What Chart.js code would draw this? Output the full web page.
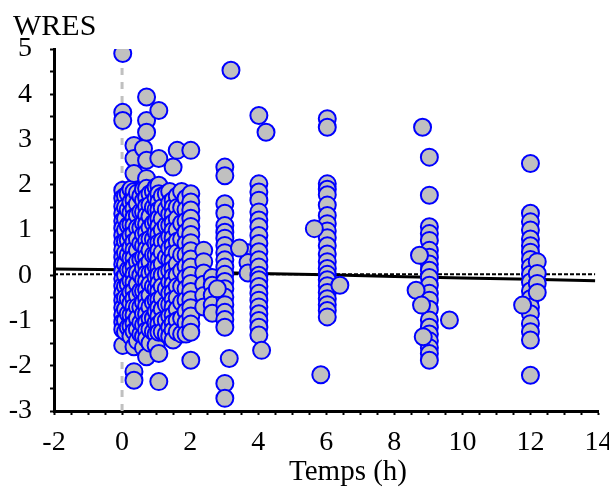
<!DOCTYPE html>
<html><head><meta charset="utf-8">
<script src="https://cdn.jsdelivr.net/npm/chart.js@4.4.1/dist/chart.umd.min.js"></script>
<style>html,body{margin:0;padding:0;background:#fff}</style>
</head><body>
<canvas id="c" width="609" height="492" style="display:block;width:609px;height:492px"></canvas>
<script>
// ---- data (hours, WRES) ----
const xTickLabels = ['-2','0','2','4','6','8','10','12','14'];
const yTickLabels = ['-3','-2','-1','0','1','2','3','4','5'];

const groupTimes = [0.02, 0.10, 0.18, 0.26, 0.35, 0.45, 0.55, 0.63, 0.72, 0.82, 0.92, 1.00, 1.08, 1.18, 1.3, 1.40, 1.5, 1.62, 1.75, 1.88, 2.02, 2.4, 2.65, 3.02, 3.7, 4.02, 6.03, 9.03, 12.0, 12.2];

const wres_t000 = [4.9, 3.6, 3.42, 1.88, 1.7, 1.52, 1.36, 1.2, 1.04, 0.88, 0.72, 0.56, 0.4, 0.24, 0.08, -0.08, -0.24, -0.4, -0.56, -0.72, -0.88, -1.04, -1.2, -1.55];
const wres_t010 = [1.75, 1.5, 1.25, 1.0, 0.75, 0.5, 0.25, 0.0, -0.25, -0.5, -0.75, -1.0, -1.25];
const wres_t018 = [1.8, 1.45, 1.1, 0.78, 0.45, 0.12, -0.2, -0.52, -0.85, -1.15];
const wres_t026 = [1.9, 1.62, 1.38, 1.12, 0.88, 0.62, 0.38, 0.12, -0.12, -0.38, -0.62, -0.88, -1.12, -1.35];
const wres_t035 = [2.87, 2.58, 2.25, 1.85, 1.66, 1.47, 1.28, 1.1, 0.92, 0.74, 0.56, 0.38, 0.2, 0.02, -0.16, -0.34, -0.52, -0.7, -0.88, -1.06, -1.24, -1.58, -2.13, -2.32];
const wres_t045 = [1.82, 1.58, 1.32, 1.05, 0.8, 0.55, 0.3, 0.05, -0.2, -0.45, -0.7, -0.95, -1.2, -1.45];
const wres_t055 = [1.75, 1.4, 1.05, 0.7, 0.35, 0.0, -0.35, -0.7, -1.05, -1.3];
const wres_t063 = [2.8, 1.9, 1.65, 1.4, 1.15, 0.9, 0.65, 0.4, 0.15, -0.1, -0.35, -0.6, -0.85, -1.1, -1.35, -1.6];
const wres_t072 = [3.94, 3.42, 3.16, 2.54, 2.14, 1.92, 1.72, 1.52, 1.32, 1.12, 0.94, 0.76, 0.58, 0.4, 0.22, 0.04, -0.14, -0.32, -0.5, -0.68, -0.86, -1.04, -1.22, -1.4, -1.8];
const wres_t082 = [1.8, 1.55, 1.3, 1.05, 0.8, 0.55, 0.3, 0.05, -0.2, -0.45, -0.7, -0.95, -1.2, -1.5];
const wres_t092 = [1.85, 1.5, 1.15, 0.8, 0.45, 0.1, -0.25, -0.6, -0.95, -1.25];
const wres_t100 = [1.95, 1.7, 1.45, 1.2, 0.95, 0.7, 0.45, 0.2, -0.05, -0.3, -0.55, -0.8, -1.05, -1.3, -1.55];
const wres_t108 = [3.64, 2.58, 1.99, 1.8, 1.62, 1.44, 1.26, 1.08, 0.9, 0.72, 0.54, 0.36, 0.18, 0.0, -0.18, -0.36, -0.54, -0.72, -0.9, -1.08, -1.26, -1.73, -2.35];
const wres_t118 = [1.75, 1.5, 1.25, 1.0, 0.75, 0.5, 0.25, 0.0, -0.25, -0.5, -0.75, -1.0, -1.25];
const wres_t130 = [1.8, 1.45, 1.1, 0.75, 0.4, 0.05, -0.3, -0.65, -1.0, -1.3];
const wres_t140 = [1.85, 1.6, 1.35, 1.1, 0.85, 0.6, 0.35, 0.1, -0.15, -0.4, -0.65, -0.9, -1.15, -1.35];
const wres_t150 = [2.39, 1.66, 1.5, 1.33, 1.16, 0.99, 0.82, 0.65, 0.48, 0.31, 0.14, -0.03, -0.2, -0.37, -0.54, -0.71, -0.88, -1.05, -1.22, -1.43];
const wres_t162 = [2.76, 1.75, 1.5, 1.25, 1.0, 0.75, 0.5, 0.25, 0.0, -0.25, -0.5, -0.75, -1.0, -1.25];
const wres_t175 = [1.85, 1.5, 1.15, 0.8, 0.45, 0.1, -0.25, -0.6, -0.95, -1.3];
const wres_t188 = [1.7, 1.45, 1.2, 0.95, 0.7, 0.45, 0.2, -0.05, -0.3, -0.55, -0.8, -1.05, -1.3];
const wres_t202 = [2.76, 1.8, 1.62, 1.44, 1.26, 1.08, 0.9, 0.72, 0.54, 0.36, 0.18, 0.0, -0.18, -0.36, -0.54, -0.72, -0.9, -1.08, -1.26, -1.88];
const wres_t240 = [0.55, 0.3, 0.05, -0.2, -0.45, -0.7];
const wres_t265 = [-0.05, -0.22, -0.44, -0.66, -0.84];
const wres_t302 = [2.39, 2.2, 1.58, 1.37, 1.1, 0.95, 0.82, 0.66, 0.5, 0.34, 0.18, 0.02, -0.14, -0.3, -0.48, -0.65, -0.82, -0.98, -1.15, -2.39, -2.72];
const wres_t370 = [0.5, 0.28, 0.05];
const wres_t402 = [3.53, 2.02, 1.84, 1.66, 1.4, 1.22, 1.07, 0.88, 0.7, 0.52, 0.34, 0.18, 0.0, -0.1, -0.25, -0.4, -0.55, -0.7, -0.85, -1.0, -1.15, -1.32];
const wres_t603 = [3.46, 3.27, 2.02, 1.9, 1.78, 1.55, 1.32, 1.14, 0.98, 0.83, 0.65, 0.47, 0.3, 0.15, 0.02, -0.1, -0.23, -0.38, -0.52, -0.65, -0.78, -0.92];
const wres_t903 = [2.61, 1.77, 1.07, 0.92, 0.77, 0.55, 0.4, 0.25, 0.11, -0.05, -0.22, -0.4, -0.55, -0.75, -0.99, -1.15, -1.3, -1.45, -1.6, -1.73, -1.88];
const wres_t1200 = [2.47, 1.37, 1.18, 1.0, 0.8, 0.65, 0.51, 0.35, 0.18, 0.02, -0.15, -0.35, -0.52, -0.7, -0.85, -1.07, -1.25, -1.43, -2.21];
const wres_t1220 = [0.3, 0.04, -0.18, -0.38];

const groupWres = [wres_t000, wres_t010, wres_t018, wres_t026, wres_t035, wres_t045, wres_t055, wres_t063, wres_t072, wres_t082, wres_t092, wres_t100, wres_t108, wres_t118, wres_t130, wres_t140, wres_t150, wres_t162, wres_t175, wres_t188, wres_t202, wres_t240, wres_t265, wres_t302, wres_t370, wres_t402, wres_t603, wres_t903, wres_t1200, wres_t1220];

const otherTimes = [3.2, 3.15, 3.45, 2.8, 4.23, 4.1, 5.65, 5.84, 6.4, 8.83, 8.74, 8.64, 8.8, 8.85, 9.62, 11.77];
const otherWres  = [4.53, -1.84, 0.6, -0.3, 3.16, -1.66, 1.03, -2.2, -0.22, 3.27, 0.44, -0.33, -0.66, -1.36, -0.99, -0.66];

const trendTimes = [-2, 0, 2, 4, 6, 8, 10, 12, 13.9];
const trendWres  = [0.14, 0.12, 0.07, 0.04, 0.01, -0.03, -0.06, -0.09, -0.12];
const zeroTimes = [-2, 13.9];
const zeroWres  = [0.02, 0.02];
const doseTimes = [0, 0];
const doseWres  = [-3, 5];

// ---- build ----
const pts = [];
groupTimes.forEach((t, i) => groupWres[i].forEach(v => pts.push({x: t, y: v})));
otherTimes.forEach((t, i) => pts.push({x: t, y: otherWres[i]}));
const zip = (a, b) => a.map((t, i) => ({x: t, y: b[i]}));

const FONT = '"Liberation Serif", "Times New Roman", serif';

const titles = {
  id: 'titles',
  afterDraw(chart) {
    const ctx = chart.ctx;
    ctx.save();
    ctx.fillStyle = '#000';
    ctx.textBaseline = 'alphabetic';
    ctx.font = '30px ' + FONT;
    ctx.textAlign = 'left';
    ctx.fillText('WRES', 13, 35);
    ctx.font = '29px ' + FONT;
    ctx.textAlign = 'center';
    ctx.fillText('Temps (h)', 348, 480);
    ctx.restore();
  }
};

new Chart(document.getElementById('c'), {
  type: 'scatter',
  data: {
    datasets: [
      { data: pts, pointRadius: 8.5, pointHoverRadius: 8.5, pointBackgroundColor: '#c0c0c0', pointBorderColor: '#0000ff', pointBorderWidth: 2, showLine: false },
      { type: 'line', data: zip(trendTimes, trendWres), borderColor: '#000', borderWidth: 3, pointRadius: 0, fill: false, tension: 0 },
      { type: 'line', data: zip(zeroTimes, zeroWres), borderColor: '#000', borderWidth: 2, borderDash: [4, 2], pointRadius: 0, fill: false },
      { type: 'line', data: zip(doseTimes, doseWres), borderColor: '#c0c0c0', borderWidth: 3, borderDash: [7, 7], pointRadius: 0, fill: false }
    ]
  },
  options: {
    responsive: false,
    animation: false,
    devicePixelRatio: 1,
    layout: { padding: { left: 0, right: 10, top: 49, bottom: 0 } },
    plugins: { legend: { display: false }, tooltip: { enabled: false } },
    scales: {
      x: {
        type: 'linear', min: -2, max: 14,
        border: { color: '#000', width: 3 },
        grid: { drawOnChartArea: false, drawTicks: true, tickLength: 4, color: '#000', tickWidth: 2 },
        ticks: {
          stepSize: 0.5, autoSkip: false, maxRotation: 0, padding: 11, color: '#000',
          font: { family: FONT, size: 28 },
          callback: v => (Math.abs(v % 2) < 1e-9 ? xTickLabels[Math.round((v + 2) / 2)] : '')
        },
        afterFit(s) { s.height = 81; s.paddingLeft = 0; s.paddingRight = 0; }
      },
      y: {
        type: 'linear', min: -3, max: 5,
        border: { color: '#000', width: 3 },
        grid: { drawOnChartArea: false, drawTicks: true, tickLength: 4, color: '#000', tickWidth: 2 },
        ticks: {
          stepSize: 0.5, autoSkip: false, padding: 18, color: '#000',
          font: { family: FONT, size: 28 },
          callback: v => (Math.abs(v % 1) < 1e-9 ? yTickLabels[Math.round(v + 3)] : '')
        },
        afterFit(s) { s.width = 54; s.paddingTop = 0; s.paddingBottom = 0; }
      }
    }
  },
  plugins: [titles]
});
</script>
</body></html>
